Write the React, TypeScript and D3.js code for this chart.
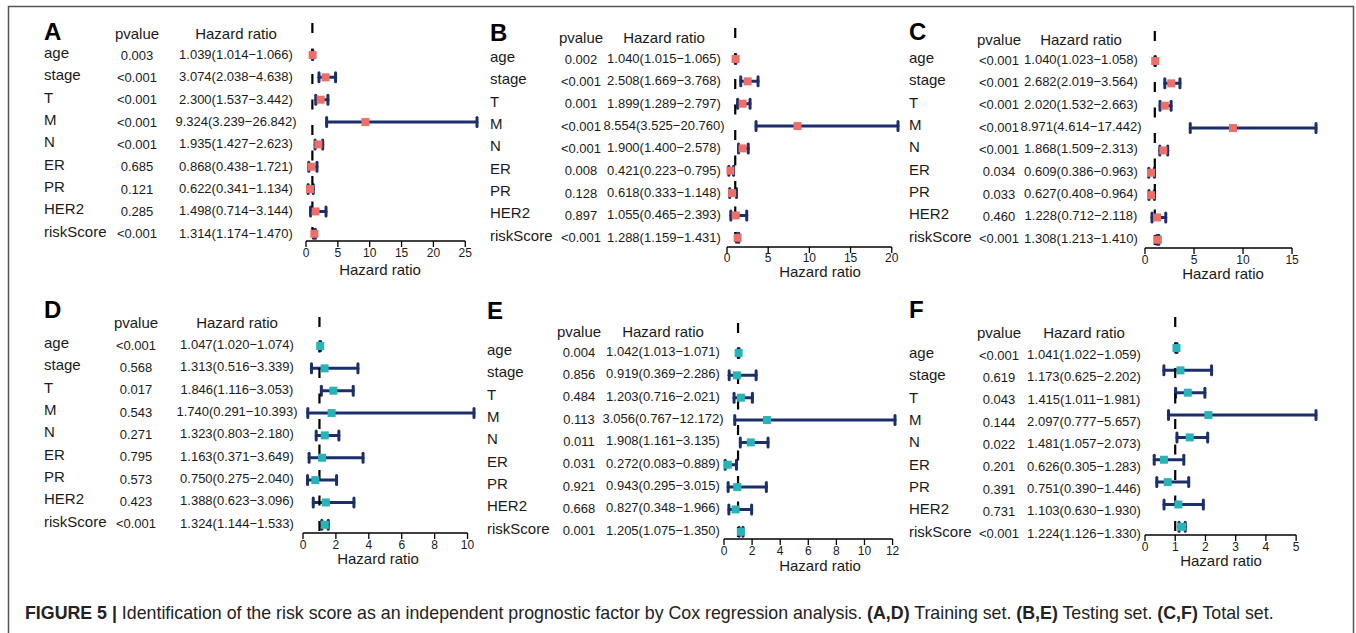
import React from 'react';
import * as d3 from 'd3';

// row labels shared by all six forest plots
const variables = ['age', 'stage', 'T', 'M', 'N', 'ER', 'PR', 'HER2', 'riskScore'];

// A - training set
const pA = ['0.003', '<0.001', '<0.001', '<0.001', '<0.001', '0.685', '0.121', '0.285', '<0.001'];
const hrA = [1.039, 3.074, 2.3, 9.324, 1.935, 0.868, 0.622, 1.498, 1.314];
const lowA = [1.014, 2.038, 1.537, 3.239, 1.427, 0.438, 0.341, 0.714, 1.174];
const highA = [1.066, 4.638, 3.442, 26.842, 2.623, 1.721, 1.134, 3.144, 1.47];
const ticksA = [0, 5, 10, 15, 20, 25];

// B - testing set
const pB = ['0.002', '<0.001', '0.001', '<0.001', '<0.001', '0.008', '0.128', '0.897', '<0.001'];
const hrB = [1.04, 2.508, 1.899, 8.554, 1.9, 0.421, 0.618, 1.055, 1.288];
const lowB = [1.015, 1.669, 1.289, 3.525, 1.4, 0.223, 0.333, 0.465, 1.159];
const highB = [1.065, 3.768, 2.797, 20.76, 2.578, 0.795, 1.148, 2.393, 1.431];
const ticksB = [0, 5, 10, 15, 20];

// C - total set
const pC = ['<0.001', '<0.001', '<0.001', '<0.001', '<0.001', '0.034', '0.033', '0.460', '<0.001'];
const hrC = [1.04, 2.682, 2.02, 8.971, 1.868, 0.609, 0.627, 1.228, 1.308];
const lowC = [1.023, 2.019, 1.532, 4.614, 1.509, 0.386, 0.408, 0.712, 1.213];
const highC = [1.058, 3.564, 2.663, 17.442, 2.313, 0.963, 0.964, 2.118, 1.41];
const ticksC = [0, 5, 10, 15];

// D - training set
const pD = ['<0.001', '0.568', '0.017', '0.543', '0.271', '0.795', '0.573', '0.423', '<0.001'];
const hrD = [1.047, 1.313, 1.846, 1.74, 1.323, 1.163, 0.75, 1.388, 1.324];
const lowD = [1.02, 0.516, 1.116, 0.291, 0.803, 0.371, 0.275, 0.623, 1.144];
const highD = [1.074, 3.339, 3.053, 10.393, 2.18, 3.649, 2.04, 3.096, 1.533];
const ticksD = [0, 2, 4, 6, 8, 10];

// E - testing set
const pE = ['0.004', '0.856', '0.484', '0.113', '0.011', '0.031', '0.921', '0.668', '0.001'];
const hrE = [1.042, 0.919, 1.203, 3.056, 1.908, 0.272, 0.943, 0.827, 1.205];
const lowE = [1.013, 0.369, 0.716, 0.767, 1.161, 0.083, 0.295, 0.348, 1.075];
const highE = [1.071, 2.286, 2.021, 12.172, 3.135, 0.889, 3.015, 1.966, 1.35];
const ticksE = [0, 2, 4, 6, 8, 10, 12];

// F - total set
const pF = ['<0.001', '0.619', '0.043', '0.144', '0.022', '0.201', '0.391', '0.731', '<0.001'];
const hrF = [1.041, 1.173, 1.415, 2.097, 1.481, 0.626, 0.751, 1.103, 1.224];
const lowF = [1.022, 0.625, 1.011, 0.777, 1.057, 0.305, 0.39, 0.63, 1.126];
const highF = [1.059, 2.202, 1.981, 5.657, 2.073, 1.283, 1.446, 1.93, 1.33];
const ticksF = [0, 1, 2, 3, 4, 5];

const RED = '#ee6e68';
const TEAL = '#27b4b6';
const NAVY = '#1c2f6b';
const FONT = "'Liberation Sans', Arial, Helvetica, sans-serif";

type Layout = {
  letterY: number; headerY: number; labelX: number; pX: number; hrX: number;
  text0: number; mark0: number; x0: number; axisY: number; dashTop: number;
  titleX: number; titleY: number; tickY: number;
};

const panels = [
  { id: 'A', p: pA, hr: hrA, low: lowA, high: highA, ticks: ticksA, color: RED,
    lay: { letterY: 40, headerY: 39, labelX: 44, pX: 137, hrX: 236, text0: 58, mark0: 55, x0: 306, axisY: 241, dashTop: 23, titleX: 380, titleY: 275, tickY: 257 } },
  { id: 'B', p: pB, hr: hrB, low: lowB, high: highB, ticks: ticksB, color: RED,
    lay: { letterY: 41, headerY: 43, labelX: 490, pX: 581, hrX: 664, text0: 62, mark0: 59, x0: 727, axisY: 247, dashTop: 28, titleX: 820, titleY: 277, tickY: 262 } },
  { id: 'C', p: pC, hr: hrC, low: lowC, high: highC, ticks: ticksC, color: RED,
    lay: { letterY: 40, headerY: 45, labelX: 909, pX: 999, hrX: 1081, text0: 63, mark0: 61, x0: 1145, axisY: 248, dashTop: 31, titleX: 1223, titleY: 279, tickY: 264 } },
  { id: 'D', p: pD, hr: hrD, low: lowD, high: highD, ticks: ticksD, color: TEAL,
    lay: { letterY: 318, headerY: 328, labelX: 44, pX: 136, hrX: 237, text0: 348, mark0: 346, x0: 303, axisY: 533, dashTop: 317, titleX: 378, titleY: 564, tickY: 549 } },
  { id: 'E', p: pE, hr: hrE, low: lowE, high: highE, ticks: ticksE, color: TEAL,
    lay: { letterY: 319, headerY: 337, labelX: 487, pX: 579, hrX: 663, text0: 355, mark0: 353, x0: 724, axisY: 539, dashTop: 323, titleX: 820, titleY: 571, tickY: 555 } },
  { id: 'F', p: pF, hr: hrF, low: lowF, high: highF, ticks: ticksF, color: TEAL,
    lay: { letterY: 318, headerY: 338, labelX: 909, pX: 999, hrX: 1084, text0: 358, mark0: 348, x0: 1145, axisY: 535, dashTop: 317, titleX: 1221, titleY: 566, tickY: 551 } },
];

const STEP = 22.35;
const PLOT_W = 171;

function Forest({ id, p, hr, low, high, ticks, color, lay }: any) {
  const L = lay as Layout;
  const x = d3.scaleLinear().domain([0, d3.max(high) as number]).range([L.x0, L.x0 + PLOT_W]);
  const yMark = (i: number) => L.mark0 + i * STEP;
  const yText = (i: number) => L.text0 + i * STEP;
  const fmt = d3.format('.3f');
  return (
    <g>
      <text x={L.labelX} y={L.letterY} fontSize={24} fontWeight="bold" fill="#000">{id}</text>
      <text x={L.pX} y={L.headerY} fontSize={15} textAnchor="middle" fill="#1a1a1a">pvalue</text>
      <text x={L.hrX} y={L.headerY} fontSize={15} textAnchor="middle" fill="#1a1a1a">Hazard ratio</text>
      {variables.map((v, i) => (
        <g key={v}>
          <text x={L.labelX} y={yText(i)} fontSize={15} fill="#1a1a1a">{v}</text>
          <text x={L.pX} y={yText(i) + 1.5} fontSize={13} textAnchor="middle" fill="#1a1a1a">{p[i]}</text>
          <text x={L.hrX} y={yText(i) + 1} fontSize={13} textAnchor="middle" fill="#1a1a1a">
            {`${fmt(hr[i])}(${fmt(low[i])}\u2212${fmt(high[i])})`}
          </text>
        </g>
      ))}
      {variables.map((v, i) => (
        <g key={'bar' + v} stroke={NAVY} strokeWidth={3} strokeLinecap="round">
          <line x1={x(low[i])} x2={x(high[i])} y1={yMark(i)} y2={yMark(i)} />
          <line x1={x(low[i])} x2={x(low[i])} y1={yMark(i) - 4.5} y2={yMark(i) + 4.5} />
          <line x1={x(high[i])} x2={x(high[i])} y1={yMark(i) - 4.5} y2={yMark(i) + 4.5} />
        </g>
      ))}
      <line x1={x(1)} x2={x(1)} y1={L.dashTop} y2={L.axisY} stroke="#000" strokeWidth={2.2} strokeDasharray="10,15.5" />
      {variables.map((v, i) => (
        <rect key={'pt' + v} x={x(hr[i]) - 4} y={yMark(i) - 4} width={8} height={8} fill={color} />
      ))}
      <line x1={x(ticks[0])} x2={x(ticks[ticks.length - 1])} y1={L.axisY} y2={L.axisY} stroke="#000" strokeWidth={1.5} />
      {ticks.map((t: number) => (
        <g key={'t' + t}>
          <line x1={x(t)} x2={x(t)} y1={L.axisY} y2={L.axisY + 6} stroke="#000" strokeWidth={1.3} />
          <text x={x(t)} y={L.tickY} fontSize={12} textAnchor="middle" fill="#1a1a1a">{t}</text>
        </g>
      ))}
      <text x={L.titleX} y={L.titleY} fontSize={15} textAnchor="middle" fill="#1a1a1a">Hazard ratio</text>
    </g>
  );
}

export default function App() {
  return (
    <svg width={1356} height={633} style={{ position: 'absolute', left: 0, top: 0, background: '#fff' }} fontFamily={FONT}>
      <rect x={0} y={0} width={1356} height={633} fill="#fff" />
      <path d="M8.5,640 V6.5 H1353.5 V640" fill="none" stroke="#555" strokeWidth={1.5} />
      {panels.map(pn => <Forest key={pn.id} {...pn} />)}
      <text x={25} y={619} fontSize={17.8} fill="#222">
        <tspan fontWeight="bold">FIGURE 5 | </tspan>
        <tspan>Identification of the risk score as an independent prognostic factor by Cox regression analysis. </tspan>
        <tspan fontWeight="bold">(A,D)</tspan>
        <tspan> Training set. </tspan>
        <tspan fontWeight="bold">(B,E)</tspan>
        <tspan> Testing set. </tspan>
        <tspan fontWeight="bold">(C,F)</tspan>
        <tspan> Total set.</tspan>
      </text>
    </svg>
  );
}
